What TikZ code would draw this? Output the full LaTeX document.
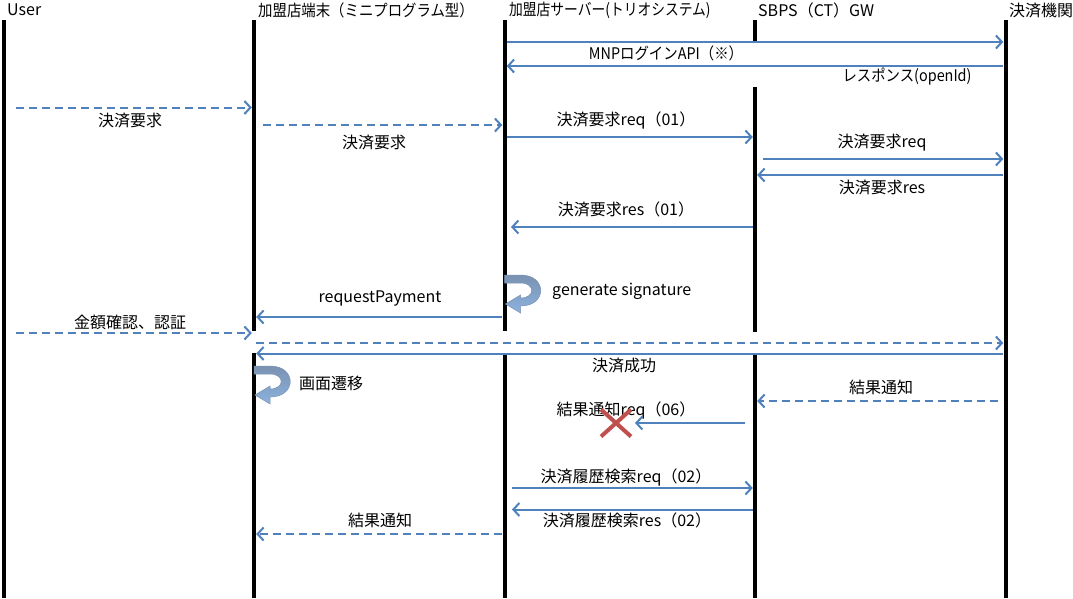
\documentclass[tikz,border=0pt]{standalone}
\usepackage{fontspec}
\setmainfont{Noto Sans CJK JP}
\newfontfamily\narrowjp[FakeStretch=0.9]{Noto Sans CJK JP}
\newfontfamily\narrowerjp[FakeStretch=0.86]{Noto Sans CJK JP}
\usetikzlibrary{arrows.meta,shapes.misc}
\definecolor{arrowblue}{RGB}{79,129,189}
\definecolor{xred}{RGB}{192,80,77}
\definecolor{loopdark}{RGB}{122,146,178}
\definecolor{looplight}{RGB}{140,178,222}
\begin{document}
\begin{tikzpicture}[x=1pt,y=-1pt,
  life/.style={rectangle, fill=black, draw=none, inner sep=0pt, minimum width=4pt, anchor=north},
  head/.style={anchor=west, inner sep=0pt, font=\fontsize{16}{18}\selectfont},
  lbl/.style={inner sep=0pt, font=\fontsize{16}{18}\selectfont},
  msg/.style={draw=arrowblue, line width=2pt, -{Straight Barb[length=6pt,width=13pt]}},
  dmsg/.style={msg, dash pattern=on 8pt off 5pt},
  loopbody/.style={top color=loopdark, bottom color=looplight, draw=loopdark, line width=0.5pt},
  xmark/.style={cross out, draw=xred, line width=4pt, minimum width=26pt, minimum height=23pt, inner sep=0pt},
]
\useasboundingbox (0,0) rectangle (1073,598);
\fill[white] (0,0) rectangle (1073,598);

% lifelines
\node[life, minimum height=578pt] (userL) at (3.5,20) {};
\node[life, minimum height=311pt] (termA) at (254,20) {};
\node[life, minimum height=245pt] (termB) at (254,353) {};
\node[life, minimum height=311pt] (srvA) at (504.5,20) {};
\node[life, minimum height=244pt] (srvB) at (504.5,354) {};
\node[life, minimum height=22pt] (gwA) at (755,20) {};
\node[life, minimum height=245pt] (gwB) at (755,87) {};
\node[life, minimum height=244pt] (gwC) at (755,354) {};
\node[life, minimum height=578pt] (payL) at (1005.5,20) {};

% headers
\node[head] (hUser) at (7,10) {User};
\node[head] (hTerm) at (258,10) {\narrowjp 加盟店端末（ミニプログラム型）};
\node[head] (hSrv) at (509,10) {\narrowerjp 加盟店サーバー(トリオシステム)};
\node[head] (hGw) at (758,10) {SBPS（CT）GW};
\node[head] (hPay) at (1009,10) {決済機関};

% 1 MNP login
\draw[msg] (srvA.east |- 0,42) -- (payL.west |- 0,42);
\node[lbl] (l1) at (666,53) {\narrowjp MNPログインAPI（※）};
% 2 response
\draw[msg] (payL.west |- 0,66) -- (srvA.east |- 0,66);
\node[lbl] (l2) at (907,77) {\narrowjp レスポンス(openId)};
% 3 user -> terminal
\coordinate (c3) at (16,107.5);
\draw[dmsg] (c3) -- (termA.west |- c3);
\node[lbl] (l3) at (130,120) {決済要求};
% 4 terminal -> server
\coordinate (c4) at (263,125);
\draw[dmsg] (c4) -- (srvA.west |- c4);
\node[lbl] (l4) at (374,142) {決済要求};
% 5 server -> gw
\draw[msg] (srvA.east |- 0,137) -- (gwB.west |- 0,137);
\node[lbl] (l5) at (626,120) {決済要求req（01）};
% 6 gw -> pay
\coordinate (c6) at (763,159);
\draw[msg] (c6) -- (payL.west |- c6);
\node[lbl] (l6) at (882,143) {決済要求req};
% 7 pay -> gw
\draw[msg] (payL.west |- 0,175) -- (gwB.east |- 0,175);
\node[lbl] (l7) at (882,187) {決済要求res};
% 8 gw -> server
\coordinate (c8) at (511,227);
\draw[msg] (gwB.west |- c8) -- (c8);
\node[lbl] (l8) at (626,209) {決済要求res（01）};

% 9 self loop on server
\shade[loopbody, shift={(504.5,275)}] (0,0) -- (16,0) .. controls (43,0) and (43,31) .. (16,31) -- (16,38) -- (1,29) -- (16,20) -- (16,23) .. controls (31,23) and (31,8) .. (16,8) -- (0,8) -- cycle;
\node[lbl, anchor=west] (l9) at (552,291) {generate signature};

% 10 server -> terminal
\draw[msg] (srvA.west |- 0,317) -- (termA.east |- 0,317);
\node[lbl] (l10) at (380,298) {requestPayment};
% 11 user -> terminal
\coordinate (c11) at (16,333);
\draw[dmsg] (c11) -- (termA.west |- c11);
\node[lbl] (l11) at (130,322) {金額確認、認証};
% 12 terminal -> pay
\draw[dmsg] (termA.east |- 0,343) -- (payL.west |- 0,343);
% 13 pay -> terminal
\draw[msg] (payL.west |- 0,353.5) -- (termB.east |- 0,353.5);
\node[lbl] (l13) at (624,365) {決済成功};

% 14 self loop on terminal
\shade[loopbody, shift={(254,366)}] (0,0) -- (16,0) .. controls (43,0) and (43,31) .. (16,31) -- (16,38) -- (1,29) -- (16,20) -- (16,23) .. controls (31,23) and (31,8) .. (16,8) -- (0,8) -- cycle;
\node[lbl, anchor=west] (l14) at (299,383) {画面遷移};

% 15 pay -> gw (dashed)
\coordinate (c15) at (998,401);
\draw[dmsg] (c15) -- (gwC.east |- c15);
\node[lbl] (l15) at (881,387) {結果通知};
% 16 gw -> server (failed)
\node[lbl] (l16) at (626,410) {結果通知req（06）};
\coordinate (c16) at (745,423);
\node[xmark] (xm) at (616,423) {};
\draw[msg, shorten >=4pt] (c16) -- (xm);

% 17 server -> gw
\coordinate (c17) at (512,488);
\draw[msg] (c17) -- (gwC.west |- c17);
\node[lbl] (l17) at (626,477) {決済履歴検索req（02）};
% 18 gw -> server
\coordinate (c18) at (512,509.5);
\draw[msg] (gwC.west |- c18) -- (c18);
\node[lbl] (l18) at (627,520) {決済履歴検索res（02）};
% 19 server -> terminal (dashed)
\draw[dmsg] (srvB.west |- 0,534) -- (termB.east |- 0,534);
\node[lbl] (l19) at (380,520) {結果通知};
\end{tikzpicture}
\end{document}
